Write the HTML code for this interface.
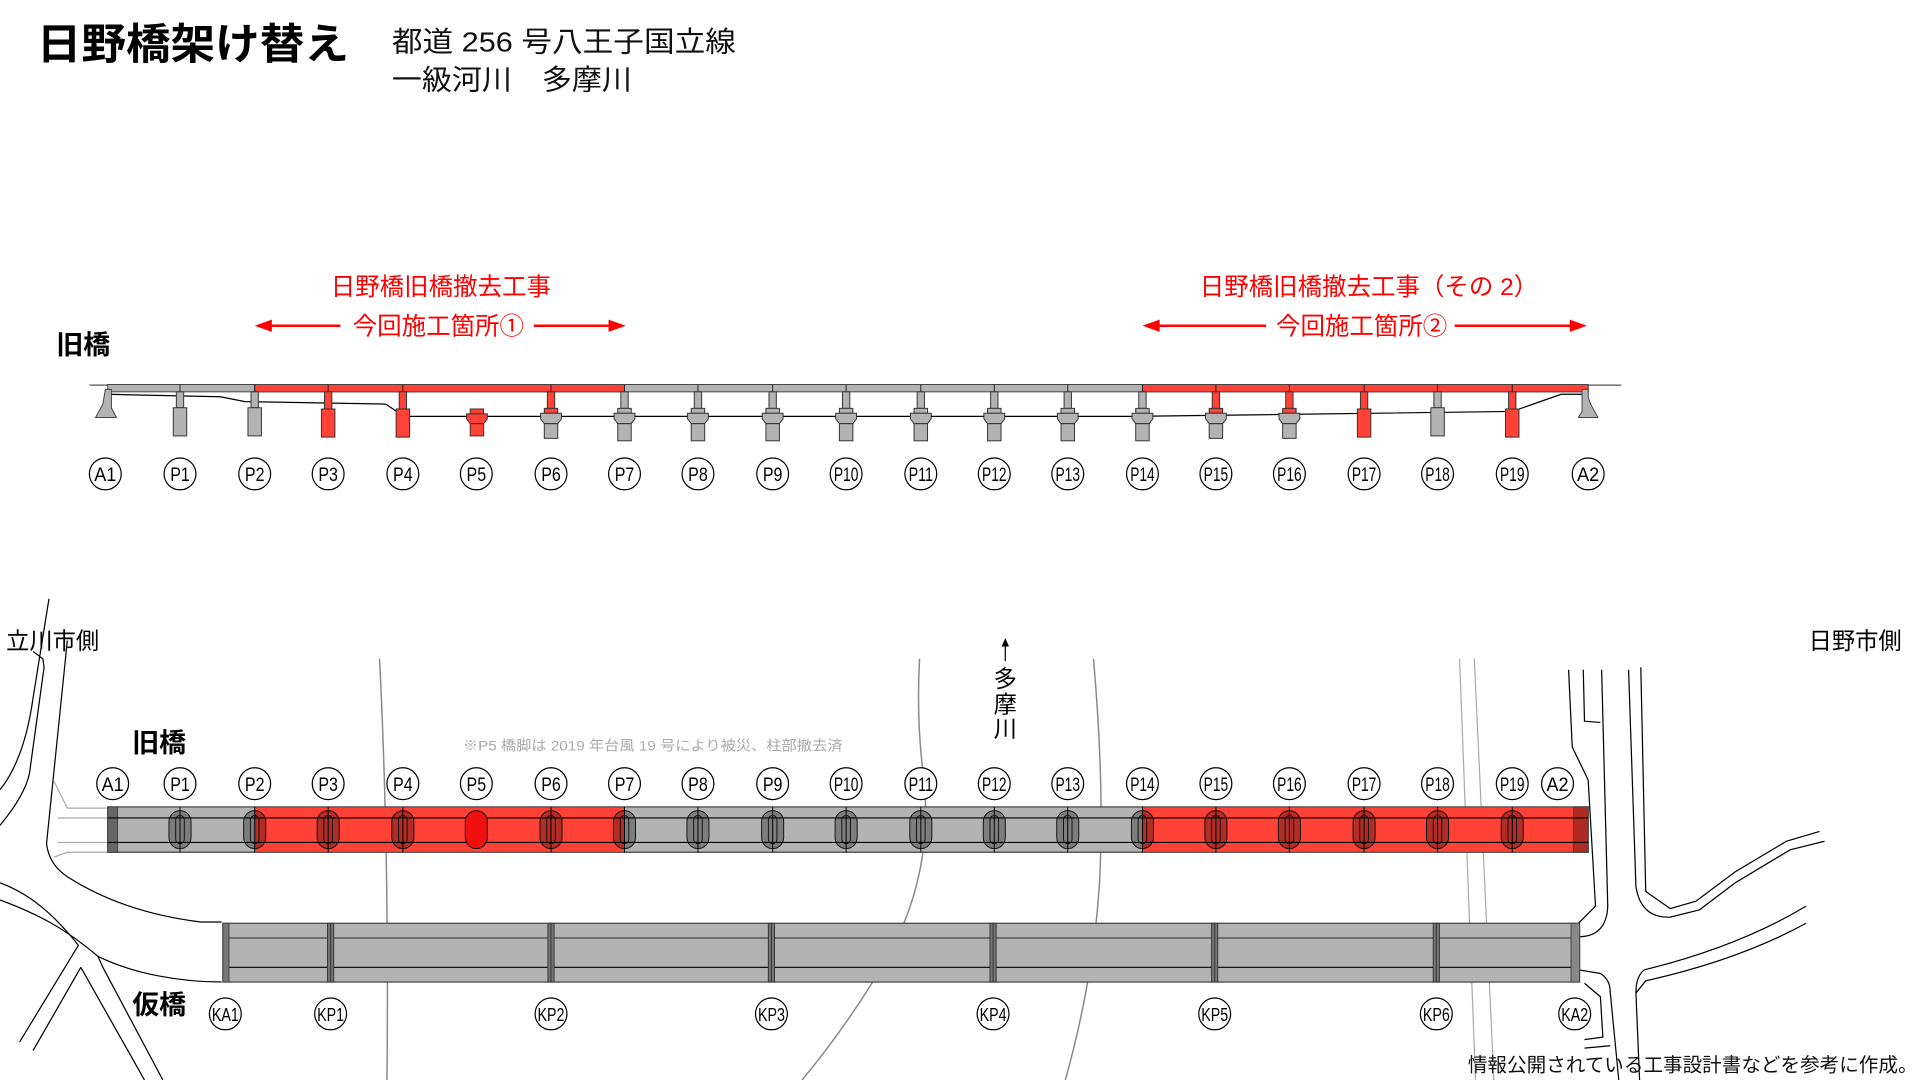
<!DOCTYPE html>
<html><head><meta charset="utf-8"><style>
html,body{margin:0;padding:0;background:#fff;}
svg{display:block;}
text{font-family:"Liberation Sans","Noto Sans CJK JP",sans-serif;}
</style></head><body>
<svg width="1920" height="1080" viewBox="0 0 1568 882" xmlns="http://www.w3.org/2000/svg">
<!-- titles -->
<text x="30" y="48" font-size="35" font-weight="bold" fill="#000" textLength="255" lengthAdjust="spacingAndGlyphs">日野橋架け替え</text>
<text x="320" y="42" font-size="23" fill="#111" textLength="281" lengthAdjust="spacingAndGlyphs">都道 256 号八王子国立線</text>
<text x="320" y="73" font-size="23" fill="#111" textLength="196" lengthAdjust="spacingAndGlyphs">一級河川　多摩川</text>

<!-- red labels -->
<g fill="#f00" stroke="none">
<text x="360" y="241" font-size="20" text-anchor="middle">日野橋旧橋撤去工事</text>
<text x="1118" y="241" font-size="20" text-anchor="middle">日野橋旧橋撤去工事（その 2）</text>
<text x="358" y="273" font-size="20" text-anchor="middle">今回施工箇所①</text>
<text x="1112" y="273" font-size="20" text-anchor="middle">今回施工箇所②</text>
</g>
<g stroke="#f00" stroke-width="2">
<line x1="218" y1="266" x2="278" y2="266"/><line x1="436" y1="266" x2="500" y2="266"/>
<line x1="944" y1="266" x2="1034" y2="266"/><line x1="1188" y1="266" x2="1284" y2="266"/>
</g>
<g fill="#f00">
<polygon points="208,266 222,261 222,271"/><polygon points="511,266 497,261 497,271"/>
<polygon points="933,266 947,261 947,271"/><polygon points="1296,266 1282,261 1282,271"/>
</g>

<text x="46" y="289" font-size="22" font-weight="bold">旧橋</text>

<!-- top elevation -->
<line x1="73" y1="314.5" x2="1324" y2="314.5" stroke="#555" stroke-width="1"/>
<polyline points="88,322 180,324 200,328 315,330 330,340 930,340 1235,336 1275,322 1297,322" fill="none" stroke="#000" stroke-width="1"/>
<rect x="88" y="314" width="1209" height="6" fill="#b3b3b3" stroke="#444" stroke-width="0.8"/>
<rect x="208" y="314" width="302" height="6" fill="#ff4136" stroke="#444" stroke-width="0.8"/>
<rect x="933" y="314" width="364" height="6" fill="#ff4136" stroke="#444" stroke-width="0.8"/>
<g stroke="#222" stroke-width="0.8">
<line x1="147" y1="314" x2="147" y2="320"/><line x1="208" y1="314" x2="208" y2="320"/><line x1="268" y1="314" x2="268" y2="320"/><line x1="329" y1="314" x2="329" y2="320"/><line x1="450" y1="314" x2="450" y2="320"/><line x1="510" y1="314" x2="510" y2="320"/><line x1="570" y1="314" x2="570" y2="320"/><line x1="631" y1="314" x2="631" y2="320"/><line x1="691" y1="314" x2="691" y2="320"/><line x1="752" y1="314" x2="752" y2="320"/><line x1="812" y1="314" x2="812" y2="320"/><line x1="872" y1="314" x2="872" y2="320"/><line x1="933" y1="314" x2="933" y2="320"/><line x1="993" y1="314" x2="993" y2="320"/><line x1="1053" y1="314" x2="1053" y2="320"/><line x1="1114" y1="314" x2="1114" y2="320"/><line x1="1174" y1="314" x2="1174" y2="320"/><line x1="1235" y1="314" x2="1235" y2="320"/>
</g>
<!-- abutments -->
<polygon points="86,318 91,318 91,333 95,341 78,341 84,330" fill="#b3b3b3" stroke="#444" stroke-width="0.8"/>
<polygon points="1292,318 1297,318 1297,324 1299,330 1305,341 1289,341 1292,336" fill="#b3b3b3" stroke="#444" stroke-width="0.8"/>

<defs>
<g id="capG" stroke="#333" stroke-width="0.8" fill="#b3b3b3">
<rect x="-3" y="320" width="6" height="13.5"/>
<rect x="-5.5" y="333.5" width="11" height="4"/>
<polygon points="-8.5,337.5 8.5,337.5 8.5,342 5.5,346 -5.5,346 -8.5,342"/>
<rect x="-5.5" y="346" width="11" height="14"/>
</g>
<g id="capRG" stroke="#333" stroke-width="0.8">
<rect x="-3" y="320" width="6" height="13.5" fill="#ff4136"/>
<rect x="-5.5" y="333.5" width="11" height="4" fill="#ff4136"/>
<polygon points="-8.5,337.5 8.5,337.5 8.5,342 5.5,346 -5.5,346 -8.5,342" fill="#b3b3b3"/>
<rect x="-5.5" y="346" width="11" height="12" fill="#b3b3b3"/>
</g>
<g id="boxG" stroke="#333" stroke-width="0.8" fill="#b3b3b3">
<rect x="-3" y="320" width="6" height="13"/>
<rect x="-5.5" y="333" width="11" height="23"/>
</g>
<g id="boxR" stroke="#333" stroke-width="0.8" fill="#ff4136">
<rect x="-3" y="320" width="6" height="14"/>
<rect x="-5.5" y="334" width="11" height="23"/>
</g>
<g id="ov">
<line x1="0" y1="659" x2="0" y2="696" stroke="#000" stroke-width="0.8"/>
<rect x="-9" y="662" width="18" height="31" rx="9" fill="rgba(0,0,0,0.3)" stroke="#111" stroke-width="0.8"/>
<rect x="-3.5" y="666" width="7" height="23" rx="3.5" fill="none" stroke="#111" stroke-width="0.8"/>
</g>
<g id="kp" stroke="#333" stroke-width="0.8" fill="#777">
<rect x="-2.5" y="754" width="5" height="48"/>
<line x1="0" y1="754" x2="0" y2="802"/>
</g>
</defs>
<use href="#boxG" x="147"/><use href="#boxG" x="208"/>
<use href="#boxR" x="268"/><use href="#boxR" x="329"/>
<g stroke="#333" stroke-width="0.8" fill="#ff4136">
<rect x="384" y="334" width="11" height="4"/>
<polygon points="381,338 398,338 398,342 395,346 384,346 381,342"/>
<rect x="384" y="346" width="11" height="10"/>
</g>
<use href="#capRG" x="450"/><use href="#capG" x="510"/><use href="#capG" x="570"/><use href="#capG" x="631"/><use href="#capG" x="691"/><use href="#capG" x="752"/><use href="#capG" x="812"/><use href="#capG" x="872"/><use href="#capG" x="933"/>
<use href="#capRG" x="993"/><use href="#capRG" x="1053"/>
<use href="#boxR" x="1114"/><use href="#boxG" x="1174"/><use href="#boxR" x="1235"/>

<!-- top labels -->
<g fill="#fff" stroke="#000" stroke-width="1">
<circle cx="86" cy="387" r="13"/><circle cx="147" cy="387" r="13"/><circle cx="208" cy="387" r="13"/><circle cx="268" cy="387" r="13"/><circle cx="329" cy="387" r="13"/><circle cx="389" cy="387" r="13"/><circle cx="450" cy="387" r="13"/><circle cx="510" cy="387" r="13"/><circle cx="570" cy="387" r="13"/><circle cx="631" cy="387" r="13"/><circle cx="691" cy="387" r="13"/><circle cx="752" cy="387" r="13"/><circle cx="812" cy="387" r="13"/><circle cx="872" cy="387" r="13"/><circle cx="933" cy="387" r="13"/><circle cx="993" cy="387" r="13"/><circle cx="1053" cy="387" r="13"/><circle cx="1114" cy="387" r="13"/><circle cx="1174" cy="387" r="13"/><circle cx="1235" cy="387" r="13"/><circle cx="1297" cy="387" r="13"/>
</g>
<g font-size="16" text-anchor="middle" fill="#000">
<text x="86" y="393" textLength="18" lengthAdjust="spacingAndGlyphs">A1</text><text x="147" y="393" textLength="16" lengthAdjust="spacingAndGlyphs">P1</text><text x="208" y="393" textLength="16" lengthAdjust="spacingAndGlyphs">P2</text><text x="268" y="393" textLength="16" lengthAdjust="spacingAndGlyphs">P3</text><text x="329" y="393" textLength="16" lengthAdjust="spacingAndGlyphs">P4</text><text x="389" y="393" textLength="16" lengthAdjust="spacingAndGlyphs">P5</text><text x="450" y="393" textLength="16" lengthAdjust="spacingAndGlyphs">P6</text><text x="510" y="393" textLength="16" lengthAdjust="spacingAndGlyphs">P7</text><text x="570" y="393" textLength="16" lengthAdjust="spacingAndGlyphs">P8</text><text x="631" y="393" textLength="16" lengthAdjust="spacingAndGlyphs">P9</text>
<text x="691" y="393" textLength="20" lengthAdjust="spacingAndGlyphs">P10</text><text x="752" y="393" textLength="20" lengthAdjust="spacingAndGlyphs">P11</text><text x="812" y="393" textLength="20" lengthAdjust="spacingAndGlyphs">P12</text><text x="872" y="393" textLength="20" lengthAdjust="spacingAndGlyphs">P13</text><text x="933" y="393" textLength="20" lengthAdjust="spacingAndGlyphs">P14</text><text x="993" y="393" textLength="20" lengthAdjust="spacingAndGlyphs">P15</text><text x="1053" y="393" textLength="20" lengthAdjust="spacingAndGlyphs">P16</text><text x="1114" y="393" textLength="20" lengthAdjust="spacingAndGlyphs">P17</text><text x="1174" y="393" textLength="20" lengthAdjust="spacingAndGlyphs">P18</text><text x="1235" y="393" textLength="20" lengthAdjust="spacingAndGlyphs">P19</text><text x="1297" y="393" textLength="18" lengthAdjust="spacingAndGlyphs">A2</text>
</g>

<!-- plan view: roads -->
<g fill="none" stroke="#000" stroke-width="1">
<path d="M40,489 L27,570 Q20,620 0,645"/>
<path d="M27,532 L35,538 L36,545 L24,632 Q20,650 0,674"/>
<path d="M55,523 L38,689 Q40,706 55,716 Q100,745 164,753 L181,753"/>
<path d="M0,721 C25,730 45,748 64,772 L16,851"/>
<path d="M0,735 C35,748 55,760 80,781 C110,796 150,802 181,802"/>
<path d="M66,790 L27,858"/>
<path d="M66,790 L118,882"/>
<path d="M80,781 L84,790 L133,882"/>
<path d="M1281,547 L1284,610 L1297,637 L1303,740 L1289,754"/>
<path d="M1293,547 L1294,589 L1307,590"/>
<path d="M1308,547 L1313,740 Q1312,765 1289,765"/>
<path d="M1330,547 L1336,724 Q1340,750 1364,749 L1388,743 L1417,721 L1462,694 L1490,687"/>
<path d="M1340,545 L1344,728 L1364,742 L1385,736 L1417,712 L1459,687 L1486,679"/>
<path d="M1475,740 Q1420,773 1343,792 Q1336,797 1336,811"/>
<path d="M1475,754 Q1420,784 1344,801 L1336,811 L1339,882"/>
<path d="M1289,792 L1307,795 Q1315,800 1315,810 L1322,882"/>
<path d="M1294,803 L1307,814 L1309,847 L1294,849"/>
<path d="M1294,856 L1315,854"/>
</g>
<g fill="none" stroke="#aaa" stroke-width="1">
<path d="M44,638 L55,660 L88,660"/>
<line x1="47" y1="668" x2="88" y2="668"/>
<line x1="47" y1="688" x2="88" y2="688"/>
<path d="M44,700 L55,696 L88,696"/>
</g>
<!-- river lines -->
<g fill="none" stroke="#888" stroke-width="1.2">
<path d="M310,538 Q318,700 316,882"/>
<path d="M751,538 Q748,590 755,640 Q762,720 720,790 Q690,840 655,882"/>
<path d="M893,538 Q902,640 898,720 Q893,800 870,882"/>
</g>
<g fill="none" stroke="#aaa" stroke-width="1">
<line x1="1192" y1="538" x2="1205" y2="882"/>
<line x1="1204" y1="538" x2="1220" y2="882"/>
</g>
<!-- river label -->
<line x1="821" y1="526" x2="821" y2="540" stroke="#000" stroke-width="1"/>
<polygon points="821,521 818,528 824,528" fill="#000"/>
<g font-size="19" text-anchor="middle" fill="#000">
<text x="821" y="561">多</text><text x="821" y="582">摩</text><text x="821" y="602">川</text>
</g>
<text x="5" y="530" font-size="19">立川市側</text>
<text x="1477" y="530" font-size="19">日野市側</text>

<text x="108" y="614" font-size="22" font-weight="bold">旧橋</text>
<text x="378" y="613" font-size="11.5" fill="#aaa" textLength="310" lengthAdjust="spacingAndGlyphs">※P5 橋脚は 2019 年台風 19 号により被災、柱部撤去済</text>

<!-- old bridge plan -->
<rect x="88" y="659" width="1209" height="37" fill="#b3b3b3" stroke="#555" stroke-width="1"/>
<rect x="208" y="659" width="302" height="37" fill="#ff4136"/>
<rect x="933" y="659" width="364" height="37" fill="#ff4136"/>
<rect x="88" y="659" width="1209" height="37" fill="none" stroke="#555" stroke-width="1"/>
<rect x="88" y="659" width="8" height="37" fill="#666" stroke="#444" stroke-width="0.8"/>
<rect x="1285" y="659" width="12" height="37" fill="#b02a24" stroke="#444" stroke-width="0.8"/>
<line x1="88" y1="668" x2="1297" y2="668" stroke="#000" stroke-width="0.9"/>
<line x1="88" y1="688" x2="1297" y2="688" stroke="#000" stroke-width="0.9"/>
<use href="#ov" x="147"/><use href="#ov" x="208"/><use href="#ov" x="268"/><use href="#ov" x="329"/>
<rect x="380" y="662" width="18" height="31" rx="9" fill="#f01010" stroke="#111" stroke-width="0.8"/>
<use href="#ov" x="450"/><use href="#ov" x="510"/><use href="#ov" x="570"/><use href="#ov" x="631"/><use href="#ov" x="691"/><use href="#ov" x="752"/><use href="#ov" x="812"/><use href="#ov" x="872"/><use href="#ov" x="933"/><use href="#ov" x="993"/><use href="#ov" x="1053"/><use href="#ov" x="1114"/><use href="#ov" x="1174"/><use href="#ov" x="1235"/>

<g fill="#fff" stroke="#000" stroke-width="1">
<circle cx="92" cy="640" r="13"/><circle cx="147" cy="640" r="13"/><circle cx="208" cy="640" r="13"/><circle cx="268" cy="640" r="13"/><circle cx="329" cy="640" r="13"/><circle cx="389" cy="640" r="13"/><circle cx="450" cy="640" r="13"/><circle cx="510" cy="640" r="13"/><circle cx="570" cy="640" r="13"/><circle cx="631" cy="640" r="13"/><circle cx="691" cy="640" r="13"/><circle cx="752" cy="640" r="13"/><circle cx="812" cy="640" r="13"/><circle cx="872" cy="640" r="13"/><circle cx="933" cy="640" r="13"/><circle cx="993" cy="640" r="13"/><circle cx="1053" cy="640" r="13"/><circle cx="1114" cy="640" r="13"/><circle cx="1174" cy="640" r="13"/><circle cx="1235" cy="640" r="13"/><circle cx="1272" cy="640" r="13"/>
</g>
<g font-size="16" text-anchor="middle" fill="#000">
<text x="92" y="646" textLength="18" lengthAdjust="spacingAndGlyphs">A1</text><text x="147" y="646" textLength="16" lengthAdjust="spacingAndGlyphs">P1</text><text x="208" y="646" textLength="16" lengthAdjust="spacingAndGlyphs">P2</text><text x="268" y="646" textLength="16" lengthAdjust="spacingAndGlyphs">P3</text><text x="329" y="646" textLength="16" lengthAdjust="spacingAndGlyphs">P4</text><text x="389" y="646" textLength="16" lengthAdjust="spacingAndGlyphs">P5</text><text x="450" y="646" textLength="16" lengthAdjust="spacingAndGlyphs">P6</text><text x="510" y="646" textLength="16" lengthAdjust="spacingAndGlyphs">P7</text><text x="570" y="646" textLength="16" lengthAdjust="spacingAndGlyphs">P8</text><text x="631" y="646" textLength="16" lengthAdjust="spacingAndGlyphs">P9</text>
<text x="691" y="646" textLength="20" lengthAdjust="spacingAndGlyphs">P10</text><text x="752" y="646" textLength="20" lengthAdjust="spacingAndGlyphs">P11</text><text x="812" y="646" textLength="20" lengthAdjust="spacingAndGlyphs">P12</text><text x="872" y="646" textLength="20" lengthAdjust="spacingAndGlyphs">P13</text><text x="933" y="646" textLength="20" lengthAdjust="spacingAndGlyphs">P14</text><text x="993" y="646" textLength="20" lengthAdjust="spacingAndGlyphs">P15</text><text x="1053" y="646" textLength="20" lengthAdjust="spacingAndGlyphs">P16</text><text x="1114" y="646" textLength="20" lengthAdjust="spacingAndGlyphs">P17</text><text x="1174" y="646" textLength="20" lengthAdjust="spacingAndGlyphs">P18</text><text x="1235" y="646" textLength="20" lengthAdjust="spacingAndGlyphs">P19</text><text x="1272" y="646" textLength="18" lengthAdjust="spacingAndGlyphs">A2</text>
</g>

<!-- temporary bridge -->
<rect x="182" y="754" width="1108" height="48" fill="#b3b3b3" stroke="#444" stroke-width="1"/>
<line x1="182" y1="766" x2="1290" y2="766" stroke="#444" stroke-width="1"/>
<line x1="182" y1="790" x2="1290" y2="790" stroke="#000" stroke-width="0.9"/>
<rect x="182" y="754" width="5" height="48" fill="#777" stroke="#444" stroke-width="0.8"/>
<rect x="1283" y="754" width="7" height="48" fill="#888" stroke="#444" stroke-width="0.8"/>
<use href="#kp" x="270"/><use href="#kp" x="450"/><use href="#kp" x="630"/><use href="#kp" x="811"/><use href="#kp" x="992"/><use href="#kp" x="1173"/>

<text x="108" y="828" font-size="22" font-weight="bold">仮橋</text>
<g fill="#fff" stroke="#000" stroke-width="1">
<circle cx="184" cy="828" r="13"/><circle cx="270" cy="828" r="13"/><circle cx="450" cy="828" r="13"/><circle cx="630" cy="828" r="13"/><circle cx="811" cy="828" r="13"/><circle cx="992" cy="828" r="13"/><circle cx="1173" cy="828" r="13"/><circle cx="1286" cy="828" r="13"/>
</g>
<g font-size="15" text-anchor="middle" fill="#000">
<text x="184" y="834" textLength="22" lengthAdjust="spacingAndGlyphs">KA1</text><text x="270" y="834" textLength="22" lengthAdjust="spacingAndGlyphs">KP1</text><text x="450" y="834" textLength="22" lengthAdjust="spacingAndGlyphs">KP2</text><text x="630" y="834" textLength="22" lengthAdjust="spacingAndGlyphs">KP3</text><text x="811" y="834" textLength="22" lengthAdjust="spacingAndGlyphs">KP4</text><text x="992" y="834" textLength="22" lengthAdjust="spacingAndGlyphs">KP5</text><text x="1173" y="834" textLength="22" lengthAdjust="spacingAndGlyphs">KP6</text><text x="1286" y="834" textLength="22" lengthAdjust="spacingAndGlyphs">KA2</text>
</g>

<text x="1566" y="875" font-size="16" text-anchor="end" fill="#111">情報公開されている工事設計書などを参考に作成。</text>
</svg>
</body></html>
